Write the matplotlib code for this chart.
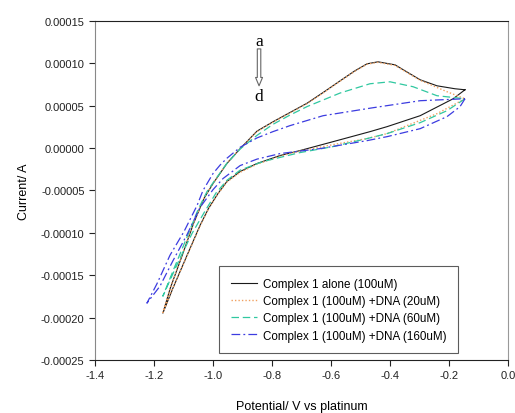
#!/usr/bin/env python
"""Cyclic voltammograms of complex 1 with increasing DNA."""

import matplotlib
matplotlib.use("Agg")
import matplotlib.pyplot as plt

plt.rcParams['font.family'] = ['Liberation Sans', 'DejaVu Sans']

# Potential (V) and current (1e-5 A), lower branch then upper branch
alone_v = [-0.146, -0.186, -0.298, -0.410, -0.468, -0.593, -0.705, -0.773, -0.851,
           -0.908, -0.953, -0.983, -1.015, -1.044, -1.088, -1.136, -1.170,
           -1.145, -1.108, -1.066, -1.030, -1.000, -0.953, -0.908, -0.851, -0.797,
           -0.739, -0.681, -0.625, -0.569, -0.520, -0.478, -0.441, -0.383, -0.332,
           -0.298, -0.241, -0.180, -0.146]
alone_i = [6.88, 5.82, 3.82, 2.53, 1.94, 0.76, -0.29, -0.88, -1.82,
           -2.76, -3.94, -5.35, -7.1, -9.12, -12.65, -16.53, -19.47,
           -16.53, -13.0, -8.88, -5.9, -4.18, -1.82, -0.06, 2.0, 3.1,
           4.2, 5.3, 6.6, 7.94, 9.1, 9.94, 10.18, 9.82, 8.76,
           8.06, 7.35, 7.0, 6.88]

dna20_v = [-0.146, -0.241, -0.410, -0.478, -0.593, -0.705, -0.773, -0.851,
           -0.908, -0.953, -0.983, -1.015, -1.044, -1.088, -1.136, -1.170,
           -1.145, -1.108, -1.066, -1.030, -1.000, -0.953, -0.908, -0.851, -0.797,
           -0.739, -0.681, -0.625, -0.569, -0.520, -0.478, -0.441, -0.383, -0.332,
           -0.298, -0.207, -0.146]
dna20_i = [5.82, 4.06, 1.71, 1.12, 0.41, -0.35, -0.95, -1.9,
           -2.85, -4.0, -5.4, -7.15, -9.2, -12.7, -16.5, -19.4,
           -16.5, -12.95, -8.85, -5.85, -4.15, -1.8, -0.05, 1.95, 3.05,
           4.15, 5.25, 6.55, 7.9, 9.05, 9.9, 10.12, 9.75, 8.7,
           8.0, 6.65, 5.82]

dna60_v = [-0.146, -0.207, -0.298, -0.410, -0.478, -0.593, -0.705, -0.831, -0.908,
           -0.953, -0.990, -1.030, -1.071, -1.112, -1.146, -1.170,
           -1.132, -1.090, -1.050, -1.020, -0.990, -0.953, -0.908, -0.851, -0.797,
           -0.739, -0.681, -0.569, -0.468, -0.400, -0.322, -0.241, -0.146]
dna60_i = [5.82, 4.41, 3.0, 1.71, 1.12, 0.18, -0.53, -1.59, -2.6,
           -3.8, -5.3, -7.6, -10.06, -13.0, -15.59, -17.47,
           -14.18, -10.65, -7.2, -5.1, -3.6, -1.8, -0.1, 1.5, 2.8,
           3.9, 4.9, 6.5, 7.59, 7.82, 7.24, 6.18, 5.82]

dna160_v = [-0.146, -0.163, -0.207, -0.298, -0.410, -0.478, -0.637, -0.705, -0.773,
            -0.851, -0.908, -0.966, -1.000, -1.044, -1.088, -1.136, -1.180, -1.224,
            -1.190, -1.146, -1.098, -1.054, -1.034, -1.000, -0.976, -0.953, -0.908,
            -0.851, -0.797, -0.739, -0.627, -0.458, -0.298, -0.146]
dna160_i = [5.82, 4.88, 3.71, 2.29, 1.35, 0.88, -0.06, -0.35, -0.65,
            -1.3, -2.06, -3.59, -4.9, -7.0, -10.2, -13.3, -16.3, -18.29,
            -16.0, -12.65, -9.82, -6.76, -5.0, -3.0, -2.0, -1.2, 0.1,
            1.2, 1.94, 2.65, 3.82, 4.76, 5.59, 5.82]

labels = ['Complex 1 alone (100uM)', 'Complex 1 (100uM) +DNA (20uM)',
          'Complex 1 (100uM) +DNA (60uM)', 'Complex 1 (100uM) +DNA (160uM)']

x_ticks = [-1.4, -1.2, -1.0, -0.8, -0.6, -0.4, -0.2, 0.0]
y_ticks = [-0.00025, -0.00020, -0.00015, -0.00010, -0.00005, 0.0, 0.00005, 0.00010, 0.00015]

fig = plt.figure(figsize=(5.15, 4.14), dpi=100)
ax = fig.add_axes([0.1845, 0.128, 0.802, 0.819])

scale = 1e-5
ax.plot(alone_v, [i * scale for i in alone_i], color='#1a1a1a', lw=0.8, label=labels[0])
ax.plot(dna20_v, [i * scale for i in dna20_i], color='#f0a060', lw=1.0,
        linestyle=(0, (1, 1.5)), label=labels[1])
ax.plot(dna60_v, [i * scale for i in dna60_i], color='#30c8a0', lw=0.9,
        linestyle=(0, (6, 3)), label=labels[2])
ax.plot(dna160_v, [i * scale for i in dna160_i], color='#3c3ce0', lw=0.9,
        linestyle=(0, (7, 2.5, 1.5, 2.5)), label=labels[3])

ax.set_xlim(-1.4, 0.0)
ax.set_ylim(-0.00025, 0.00015)
ax.set_xticks(x_ticks)
ax.set_xticklabels([f"{t:.1f}" for t in x_ticks])
ax.set_yticks(y_ticks)
ax.set_yticklabels([f"{t:.5f}" for t in y_ticks])
ax.tick_params(labelsize=8, length=4, width=0.8, colors='#222222')
ax.tick_params(top=False, right=False)

ax.spines['left'].set_color('#888888')
ax.spines['right'].set_color('#999999')
ax.spines['top'].set_color('#222222')
ax.spines['bottom'].set_color('#222222')

ax.set_xlabel('Potential/ V vs platinum', fontsize=9, labelpad=14)
ax.set_ylabel('Current/ A', fontsize=9, labelpad=8)

# a -> d arrow annotation
ax.text(-0.844, 0.0001265, 'a', family='Liberation Serif', fontsize=12.5,
        ha='center', va='center')
ax.text(-0.844, 0.0000618, 'd', family='Liberation Serif', fontsize=12.5,
        ha='center', va='center')
ax.annotate('', xy=(-0.844, 0.0000735), xytext=(-0.844, 0.0001170),
            arrowprops=dict(arrowstyle='simple,head_length=0.6,head_width=0.5,tail_width=0.25',
                            facecolor='white', edgecolor='#666666', lw=0.8,
                            shrinkA=0, shrinkB=0))

leg = ax.legend(loc='lower left', bbox_to_anchor=(0.3, 0.02), borderaxespad=0,
                fontsize=8.4, frameon=True, fancybox=False, handlelength=2.3,
                borderpad=1.0, labelspacing=0.45, handletextpad=0.5)
leg.get_frame().set_edgecolor('#333333')
leg.get_frame().set_linewidth(0.8)

fig.savefig('out.png', dpi=100)
